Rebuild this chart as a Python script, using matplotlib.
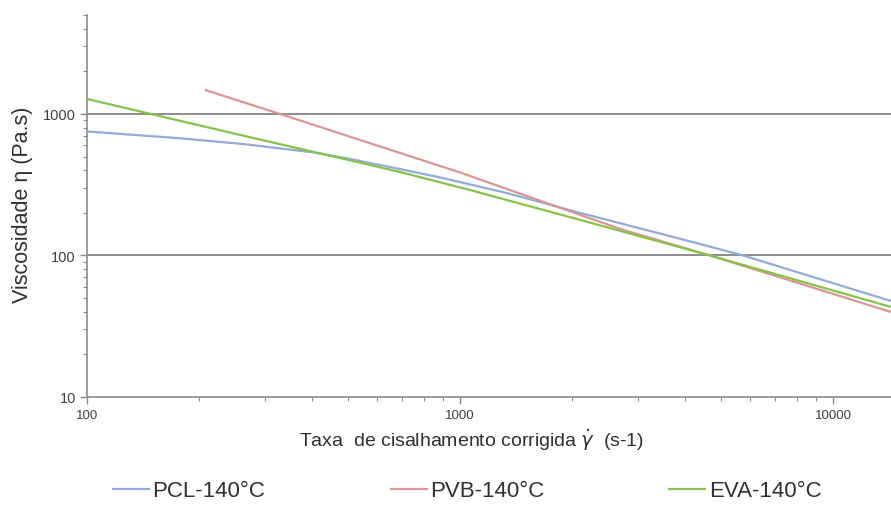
import matplotlib
matplotlib.use("Agg")
import matplotlib.pyplot as plt
from matplotlib.ticker import LogLocator, FixedLocator, NullFormatter, FixedFormatter
import numpy as np

plt.rcParams['font.family'] = ['Liberation Sans', 'DejaVu Sans']

# Data (shear rate s-1, viscosity Pa.s)
pcl_x = [100, 178, 268, 404, 507, 690, 884, 1336, 2009, 4399, 5740, 14290]
pcl_y = [752, 673, 609, 535, 481, 408, 356, 276, 206, 120.6, 100, 47.7]

pvb_x = [207, 329, 1000, 2685, 4680, 14290]
pvb_y = [1479, 1000, 386, 154, 100, 39.9]

eva_x = [100, 268, 477, 690, 1064, 2009, 4677, 14290]
eva_y = [1276, 693, 488, 389, 290, 184, 100, 43.3]

labels = ['PCL-140°C', 'PVB-140°C', 'EVA-140°C']
colors = ['#93ABD6', '#D99693', '#86C34A']

xticks = [100, 1000, 10000]
xticklabels = ['100', '1000', '10000']
yticks = [10, 100, 1000]
yticklabels = ['10', '100', '1000']

fig = plt.figure(figsize=(8.91, 5.10), dpi=100)
ax = fig.add_axes([87/891, 1 - 398/510, 1 - 87/891, (398 - 16)/510])

ax.set_xscale('log')
ax.set_yscale('log')

for xs, ys, lab, c in zip([pcl_x, pvb_x, eva_x], [pcl_y, pvb_y, eva_y], labels, colors):
    ax.plot(xs, ys, color=c, lw=1.6, label=lab, solid_capstyle='butt',
            solid_joinstyle='round', zorder=3)

ax.set_xlim(100, 14300)
ax.set_ylim(10, 5000)

ax.xaxis.set_major_locator(FixedLocator(xticks))
ax.xaxis.set_major_formatter(FixedFormatter(xticklabels))
ax.xaxis.set_minor_locator(LogLocator(base=10, subs=np.arange(2, 10)))
ax.xaxis.set_minor_formatter(NullFormatter())
ax.yaxis.set_major_locator(FixedLocator(yticks))
ax.yaxis.set_major_formatter(FixedFormatter(yticklabels))
ax.yaxis.set_minor_locator(LogLocator(base=10, subs=np.arange(2, 10)))
ax.yaxis.set_minor_formatter(NullFormatter())

for y in [100, 1000]:
    ax.axhline(y, color='#8C8C8C', lw=1.4, zorder=1)

for s in ['top', 'right']:
    ax.spines[s].set_visible(False)
for s in ['left', 'bottom']:
    ax.spines[s].set_color('#8C8C8C')
    ax.spines[s].set_linewidth(1.2)

ax.tick_params(axis='both', which='major', length=5, width=1.0, color='#8C8C8C', direction='out')
ax.tick_params(axis='both', which='minor', length=3, width=0.8, color='#8C8C8C', direction='out')
ax.tick_params(axis='x', labelsize=9.5, colors='#8C8C8C', labelcolor='#404040', pad=4)
ax.tick_params(axis='y', labelsize=10.5, colors='#8C8C8C', labelcolor='#404040', pad=3)

fig.text(472/891, 1 - 440/510, r'Taxa  de cisalhamento corrigida $\dot{\gamma}$  (s-1)',
         ha='center', va='center', fontsize=14, color='#303030')
fig.text(23/891, 1 - 205/510, 'Viscosidade η (Pa.s)', rotation=90,
         ha='center', va='center', fontsize=15.5, color='#303030')

fs = 16
leg = fig.legend(loc='center left', bbox_to_anchor=(112/891, 1 - 492/510), ncol=3,
                 frameon=False, fontsize=fs, handlelength=38/(fs*100/72),
                 handletextpad=0.1, columnspacing=5.6, borderpad=0, borderaxespad=0)
for t in leg.get_texts():
    t.set_color('#303030')

fig.savefig('out.png', dpi=100)
